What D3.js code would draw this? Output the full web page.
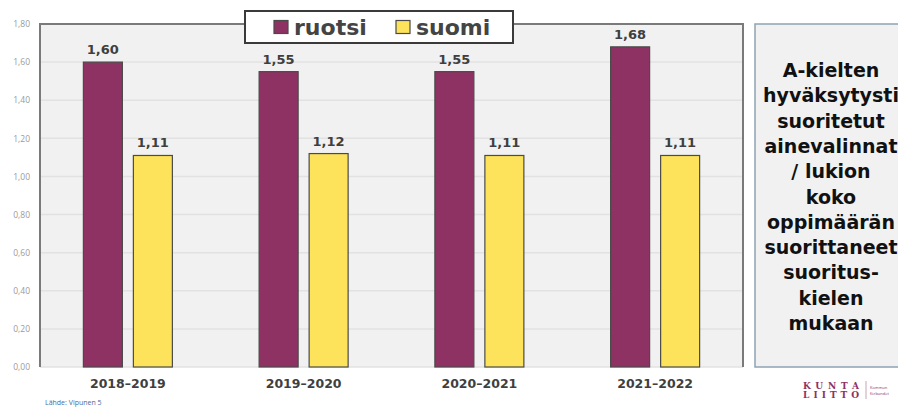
<!DOCTYPE html>
<html>
<head>
<meta charset="utf-8">
<script src="https://cdn.jsdelivr.net/npm/d3@7"></script>
<style>
  body { margin: 0; background: #fff; }
  svg { display: block; }
</style>
</head>
<body>
<svg id="chart" width="898" height="407"></svg>
<script>
// data
var years = ["2018–2019", "2019–2020", "2020–2021", "2021–2022"];
var seriesNames = ["ruotsi", "suomi"];
var ruotsi = [1.60, 1.55, 1.55, 1.68];
var suomi = [1.11, 1.12, 1.11, 1.11];
var yTicks = [0, 0.2, 0.4, 0.6, 0.8, 1.0, 1.2, 1.4, 1.6, 1.8];
var sideText = ["A-kielten", "hyväksytysti", "suoritetut", "ainevalinnat", "/ lukion", "koko",
  "oppimäärän", "suorittaneet", "suoritus-", "kielen", "mukaan"];

var colors = { ruotsi: "#8e3163", suomi: "#fde35c" };
var fmt = function(v) { return d3.format(".2f")(v).replace(".", ","); };

var svg = d3.select("#chart");
// plot box (top is a window property, so use other names)
var pLeft = 40, pRight = 743, pTop = 24, pBottom = 367;

var x0 = d3.scaleBand().domain(years).range([pLeft, pRight]);
var x1 = d3.scaleBand().domain(seriesNames).range([0, 89]).paddingInner(0.22);
var y = d3.scaleLinear().domain([0, 1.8]).range([pBottom, pTop]);

// plot background
svg.append("rect")
  .attr("x", pLeft).attr("y", pTop)
  .attr("width", pRight - pLeft).attr("height", pBottom - pTop)
  .attr("fill", "#f1f1f1");

// grid lines
svg.append("g")
  .selectAll("line")
  .data(yTicks)
  .enter().append("line")
  .attr("x1", pLeft).attr("x2", pRight)
  .attr("y1", function(d) { return y(d); })
  .attr("y2", function(d) { return y(d); })
  .attr("stroke", "#e2e2e2")
  .attr("stroke-width", 1.5);

// y axis labels
var yAxis = d3.axisLeft(y).tickValues(yTicks).tickFormat(fmt).tickSize(0).tickPadding(10);
var ya = svg.append("g").attr("transform", "translate(" + pLeft + ",0)").call(yAxis);
ya.select(".domain").remove();
ya.selectAll("text")
  .attr("fill", "#9a9a9a")
  .style("font-family", "'Open Sans', sans-serif")
  .style("font-size", "8.5px");

// frame: left, top, right
svg.append("path")
  .attr("d", "M" + pLeft + "," + pBottom + "V" + pTop + "H" + pRight + "V" + pBottom)
  .attr("fill", "none")
  .attr("stroke", "#7a7a7a")
  .attr("stroke-width", 2);

// bars
var rows = years.map(function(yr, i) {
  return { year: yr, values: [{ key: "ruotsi", v: ruotsi[i] }, { key: "suomi", v: suomi[i] }] };
});

var groups = svg.selectAll("g.grp")
  .data(rows)
  .enter().append("g")
  .attr("class", "grp")
  .attr("transform", function(d) { return "translate(" + (x0(d.year) + x0.bandwidth() / 2 - 44.5) + ",0)"; });

groups.selectAll("rect")
  .data(function(d) { return d.values; })
  .enter().append("rect")
  .attr("x", function(d) { return x1(d.key); })
  .attr("y", function(d) { return y(d.v); })
  .attr("width", x1.bandwidth())
  .attr("height", function(d) { return y(0) - y(d.v); })
  .attr("fill", function(d) { return colors[d.key]; })
  .attr("stroke", "#4a4a4a")
  .attr("stroke-width", 1.2);

groups.selectAll("text.val")
  .data(function(d) { return d.values; })
  .enter().append("text")
  .attr("class", "val")
  .attr("x", function(d) { return x1(d.key) + x1.bandwidth() / 2; })
  .attr("y", function(d) { return y(d.v) - 8; })
  .attr("text-anchor", "middle")
  .attr("fill", "#3f3f3f")
  .style("font-family", "'DejaVu Sans', sans-serif")
  .style("font-weight", "bold")
  .style("font-size", "13px")
  .text(function(d) { return fmt(d.v); });

// x labels
var xAxis = d3.axisBottom(x0).tickSize(0).tickPadding(12);
var xa = svg.append("g").attr("transform", "translate(0," + pBottom + ")").call(xAxis);
xa.select(".domain").remove();
xa.selectAll("text")
  .attr("fill", "#3f3f3f")
  .style("font-family", "'DejaVu Sans', sans-serif")
  .style("font-weight", "bold")
  .style("font-size", "12.5px");

// legend
var lg = svg.append("g");
lg.append("rect")
  .attr("x", 245).attr("y", 11).attr("width", 268).attr("height", 32)
  .attr("fill", "#fff").attr("stroke", "#3a3a3a").attr("stroke-width", 2);
var legX = [274, 396];
seriesNames.forEach(function(name, i) {
  lg.append("rect")
    .attr("x", legX[i]).attr("y", 20.5).attr("width", 14).attr("height", 13)
    .attr("fill", colors[name]).attr("stroke", "#4a4a4a").attr("stroke-width", 1.2);
  lg.append("text")
    .attr("x", legX[i] + 20).attr("y", 35)
    .attr("fill", "#444")
    .style("font-family", "'DejaVu Sans', sans-serif")
    .style("font-weight", "bold")
    .style("font-size", "22px")
    .text(name);
});

// side box
svg.append("rect")
  .attr("x", 755).attr("y", 24).attr("width", 150).attr("height", 343)
  .attr("fill", "#f1f1f1").attr("stroke", "#8ea2b4").attr("stroke-width", 1.5);
svg.append("g").selectAll("text")
  .data(sideText)
  .enter().append("text")
  .attr("x", 831)
  .attr("y", function(d, i) { return 77 + i * 25.3; })
  .attr("text-anchor", "middle")
  .attr("fill", "#111")
  .style("font-family", "'DejaVu Sans', sans-serif")
  .style("font-weight", "bold")
  .style("font-size", "19px")
  .text(function(d) { return d; });

// source + logo
svg.append("text")
  .attr("x", 45).attr("y", 405)
  .attr("fill", "#4a6aa0")
  .style("font-family", "'Open Sans', sans-serif")
  .style("font-size", "7px")
  .text("Lähde: Vipunen 5");

var logo = svg.append("g").attr("fill", "#8e3163")
  .style("font-family", "'DejaVu Serif', serif")
  .style("font-weight", "bold");
logo.append("text").attr("x", 803).attr("y", 389).style("font-size", "9px").attr("textLength", 56).text("KUNTA");
logo.append("text").attr("x", 803).attr("y", 398).style("font-size", "9px").attr("textLength", 56).text("LIITTO");
svg.append("line").attr("x1", 866).attr("x2", 866).attr("y1", 381).attr("y2", 399).attr("stroke", "#c9a3b8");
svg.append("text").attr("x", 870).attr("y", 389).attr("fill", "#8e3163")
  .style("font-family", "'Open Sans', sans-serif").style("font-size", "4px").text("Kommun");
svg.append("text").attr("x", 870).attr("y", 395).attr("fill", "#8e3163")
  .style("font-family", "'Open Sans', sans-serif").style("font-size", "4px").text("förbundet");
</script>
</body>
</html>
